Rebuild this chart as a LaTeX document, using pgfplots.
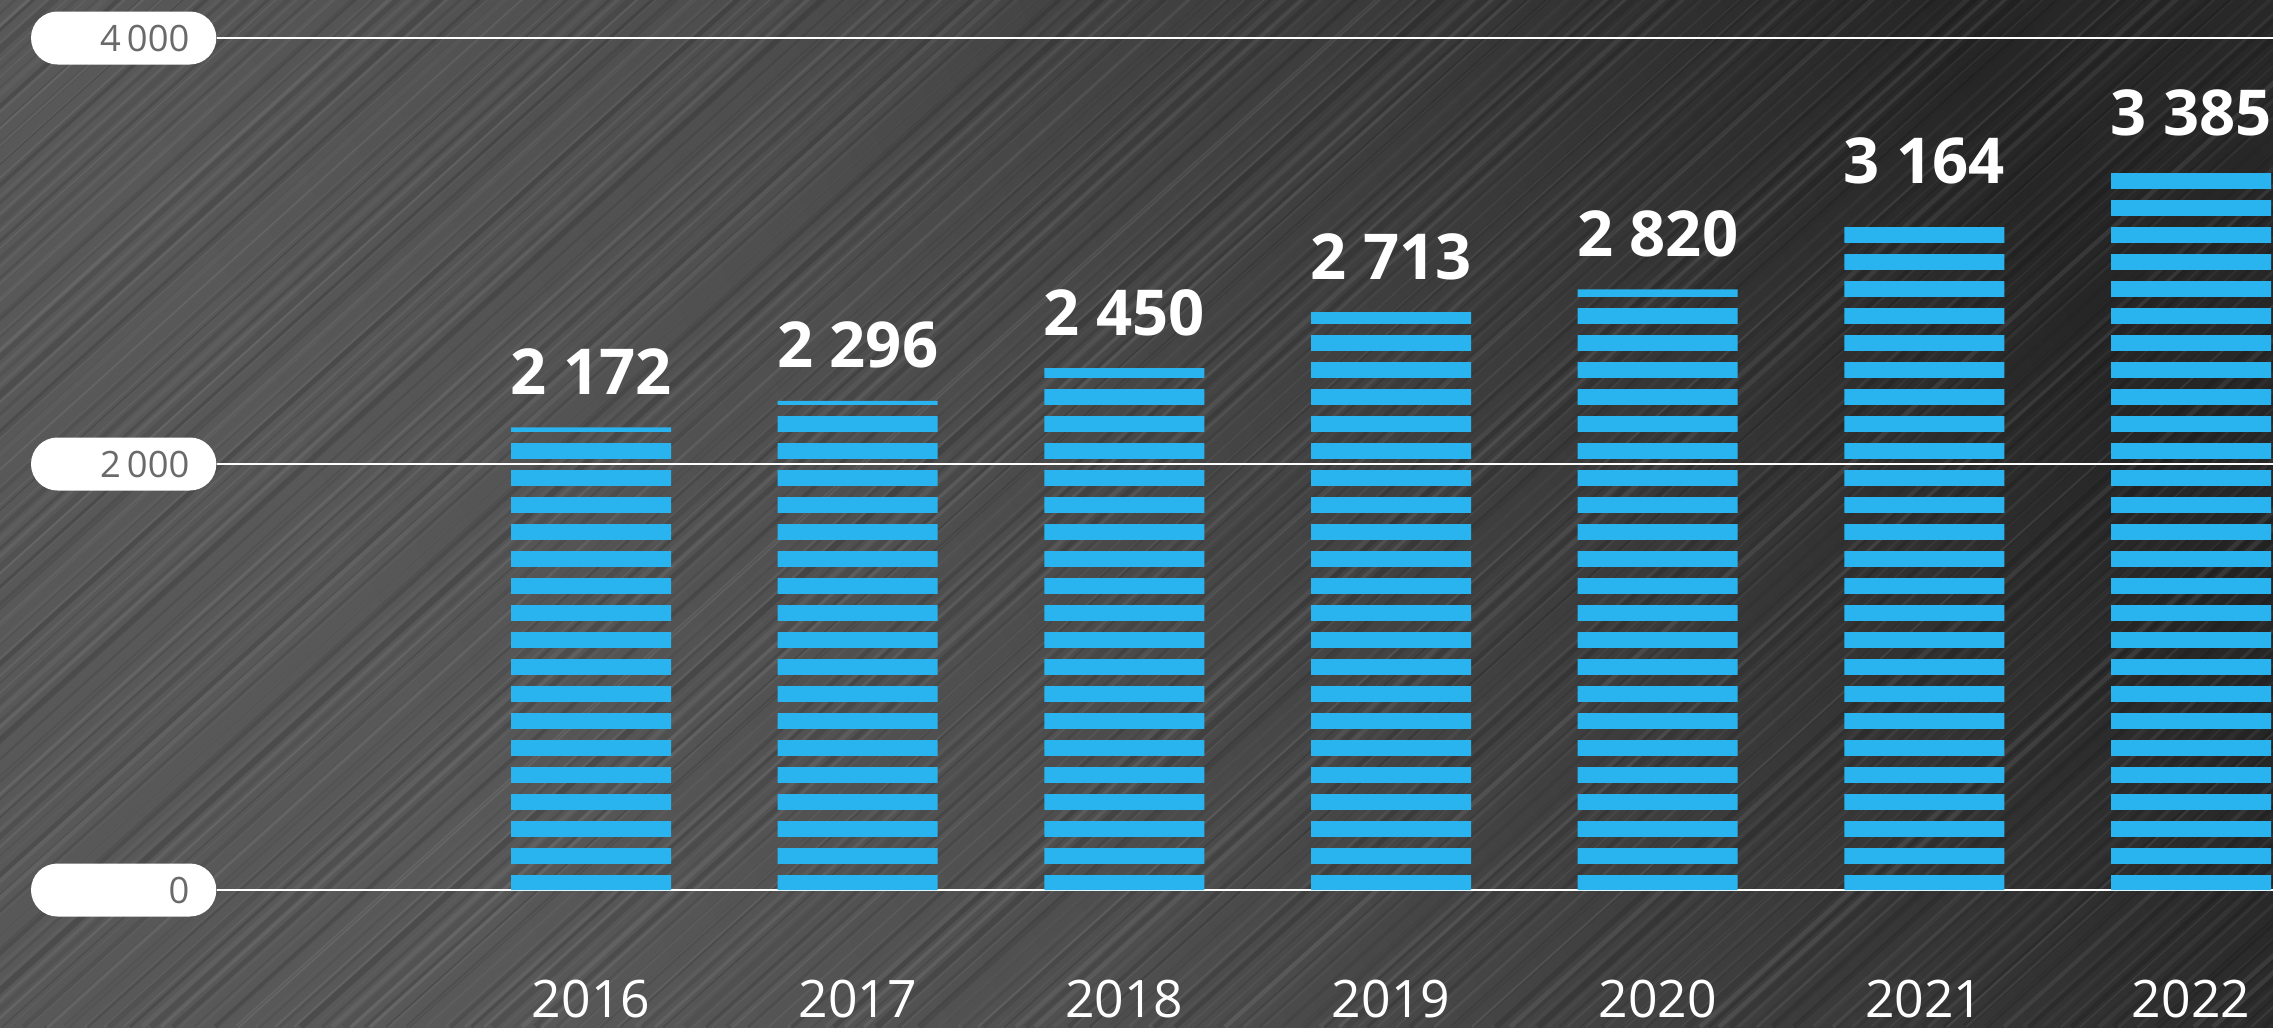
\documentclass[border=0pt]{standalone}
\usepackage{pgfplots}
\pgfplotsset{compat=1.18}
\usetikzlibrary{patterns.meta}
\usepackage{fontspec}
\setmainfont{Open Sans}
\definecolor{barblue}{HTML}{29B4EF}
\definecolor{tickgray}{HTML}{6A6A6A}
\definecolor{bgA}{HTML}{585858}
\definecolor{bgB}{HTML}{4E4E4E}
\definecolor{bgC}{HTML}{3C3C3C}
\definecolor{bgD}{HTML}{262626}
\definecolor{bgE}{HTML}{2C2C2C}
\pgfdeclarehorizontalshading{bgshade}{100bp}{color(0bp)=(bgA); color(30bp)=(bgA); color(45bp)=(bgB); color(60bp)=(bgC); color(75bp)=(bgD); color(100bp)=(bgE)}
\tikzdeclarepattern{
  name=hstripes,
  type=uncolored,
  bounding box={(0pt,0pt) and (200pt,8.025pt)},
  tile size={(200pt,8.025pt)},
  code={\fill (-1pt,0.975pt) rectangle (201pt,5.685pt);}
}
\begin{document}
\begin{tikzpicture}
% background
\shade[shading=bgshade, shading angle=25] (0,0) rectangle (681.9pt,308.1pt);
\begin{scope}
\clip (0,0) rectangle (681.9pt,308.1pt);
\foreach \i in {0,...,180} {
  \pgfmathsetmacro{\xo}{mod(\i*53,181)*5.7 - 345}
  \pgfmathsetmacro{\op}{0.03+0.05*mod(\i*7,5)/4}
  \pgfmathsetmacro{\lw}{0.3+0.35*mod(\i*3,4)}
  \draw[line width=\lw pt, draw=white, opacity=\op] (\xo pt,0) -- ++(42:480pt);
}
\foreach \i in {0,...,160} {
  \pgfmathsetmacro{\xo}{mod(\i*71,161)*6.4 - 345}
  \pgfmathsetmacro{\op}{0.06+0.08*mod(\i*3,5)/4}
  \pgfmathsetmacro{\lw}{0.4+0.5*mod(\i*5,4)}
  \draw[line width=\lw pt, draw=black, opacity=\op] (\xo pt,0) -- ++(42:480pt);
}
\end{scope}
\begin{axis}[
  at={(65.1pt,41.1pt)}, anchor=south west,
  scale only axis, width=616.8pt, height=255.6pt,
  xmin=-1.4025, xmax=6.3075, ymin=0, ymax=4000,
  axis line style={draw=none}, major tick length=0pt,
  clip=false,
  ytick={0,2000,4000}, yticklabels={0,2\,000,4\,000},
  ymajorgrids, grid style={white, line width=0.45pt},
  xtick={0,1,2,3,4,5,6},
  xticklabels={2016,2017,2018,2019,2020,2021,2022},
  yticklabel style={anchor=east, font=\fontsize{10.9}{12}\selectfont, text=tickgray,
    fill=white, rounded corners=7.95pt, minimum height=15.9pt, text width=39.4pt,
    align=right, inner xsep=8.1pt, inner ysep=0pt},
  xticklabel style={anchor=base, yshift=-38.1pt, font=\fontsize{15.5}{18}\selectfont, text=white},
  ybar, bar width=48pt,
  point meta=explicit symbolic,
  nodes near coords,
  nodes near coords style={anchor=base, yshift=9.9pt, text=white,
    font=\bfseries\fontsize{19}{22}\selectfont},
]
\addplot[draw=none, pattern=hstripes, pattern color=barblue] coordinates {
  (0,2172) [2\ 172]
  (1,2296) [2\ 296]
  (2,2450) [2\ 450]
  (3,2713) [2\ 713]
  (4,2820) [2\ 820]
  (5,3164) [3\ 164]
  (6,3385) [3\ 385]
};
\end{axis}
\pgfresetboundingbox
\path (0,0) rectangle (681.9pt,308.1pt);
\end{tikzpicture}
\end{document}
